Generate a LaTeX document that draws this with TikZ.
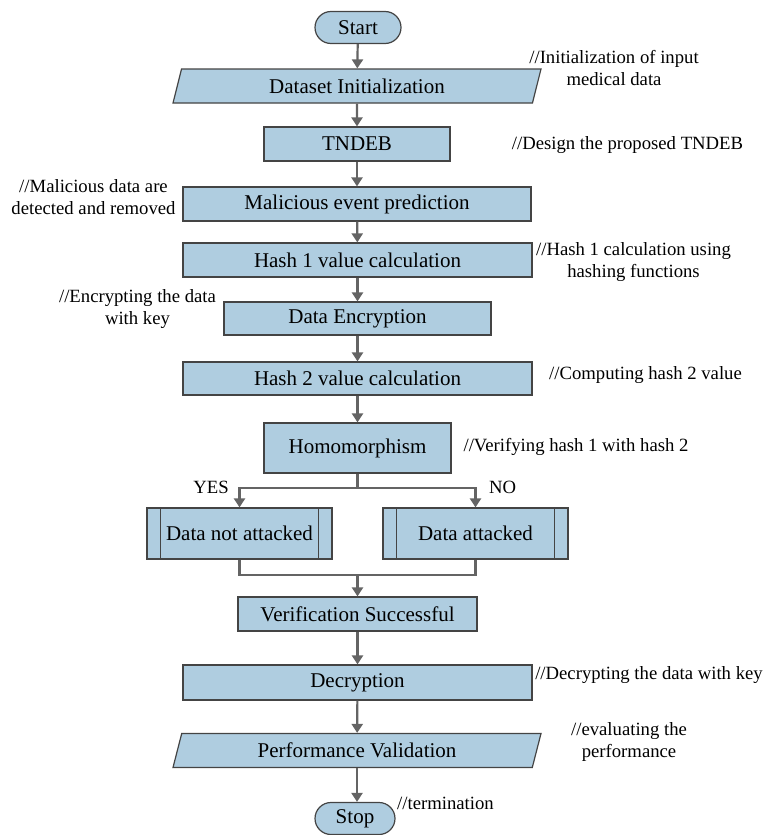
\documentclass[tikz,border=0pt]{standalone}
\usepackage{fontspec}
\setmainfont{Liberation Serif}
\usetikzlibrary{shapes.geometric,shapes.misc,arrows.meta}
\definecolor{boxblue}{RGB}{175,205,224}
\definecolor{edgegray}{RGB}{68,68,68}
\definecolor{arrowgray}{RGB}{100,100,100}
\begin{document}
\begin{tikzpicture}[x=1pt,y=-1pt,
  font=\fontsize{21}{24}\selectfont,
  proc/.style={draw=edgegray,line width=1.2pt,fill=boxblue,rectangle,inner sep=0pt},
  term/.style={proc,rounded rectangle,minimum width=86pt,minimum height=32pt},
  io/.style={proc,trapezium,trapezium left angle=60,trapezium right angle=120,
    trapezium stretches body,minimum width=368pt,minimum height=34pt},
  note/.style={align=center,inner sep=0pt,font=\fontsize{18.7}{21.5}\selectfont},
  flow/.style={draw=arrowgray,line width=2.2pt,-{Triangle[length=9pt,width=11pt]}}]
\useasboundingbox (0,0) rectangle (765,835);
\node[term] (1) at (358,27.5) {Start};
\node[io] (2) at (357,86) {Dataset Initialization};
\node[proc,minimum width=186pt,minimum height=34pt] (3) at (357,144) {TNDEB};
\node[proc,minimum width=348pt,minimum height=34pt] (4) at (357,204) {Malicious event prediction};
\node[proc,minimum width=349pt,minimum height=34pt] (5) at (357.5,260) {Hash 1 value calculation};
\node[proc,minimum width=267pt,minimum height=33pt] (6) at (357.5,318.5) {Data Encryption};
\node[proc,minimum width=349pt,minimum height=33pt] (7) at (357.5,378.5) {Hash 2 value calculation};
\node[proc,minimum width=187pt,minimum height=50pt] (8) at (357.5,448) {Homomorphism};
\node[proc,minimum width=185pt,minimum height=51pt] (9) at (239.5,533.5) {Data not attacked};
\node[proc,minimum width=185pt,minimum height=51pt] (10) at (475.5,533.5) {Data attacked};
\node[proc,minimum width=239pt,minimum height=34pt] (11) at (357.5,614) {Verification Successful};
\node[proc,minimum width=349pt,minimum height=35pt] (12) at (357.5,682.5) {Decryption};
\node[io] (13) at (357,750.5) {Performance Validation};
\node[term,minimum width=80pt] (14) at (355,818.5) {Stop};
% sub-process bars
\draw[edgegray,line width=1.2pt] ([xshift=14pt]9.north west) -- ([xshift=14pt]9.south west);
\draw[edgegray,line width=1.2pt] ([xshift=-14pt]9.north east) -- ([xshift=-14pt]9.south east);
\draw[edgegray,line width=1.2pt] ([xshift=14pt]10.north west) -- ([xshift=14pt]10.south west);
\draw[edgegray,line width=1.2pt] ([xshift=-14pt]10.north east) -- ([xshift=-14pt]10.south east);
% comments
\node[note] (c1) at (614,68) {//Initialization of input\\medical data};
\node[note] (c2) at (627.5,145) {//Design the proposed TNDEB};
\node[note] (c3) at (93.5,197) {//Malicious data are\\detected and removed};
\node[note] (c4) at (633.5,262) {//Hash 1 calculation using\\hashing functions};
\node[note] (c5) at (137.5,309) {//Encrypting the data\\with key};
\node[note] (c6) at (645.5,375) {//Computing hash 2 value};
\node[note] (c7) at (576,447) {//Verifying hash 1 with hash 2};
\node[note] (c8) at (649,675) {//Decrypting the data with key};
\node[note] (c9) at (629,742) {//evaluating the\\performance};
\node[note] (c10) at (445.5,803) {//termination};
\node[note,anchor=east] (y) at (229,487) {YES};
\node[note,anchor=west] (n) at (489,487) {NO};
% connectors
\coordinate (b) at (357.5,488);
\coordinate (m) at (357.5,575);
\path[flow] (1) -- (2);
\path[flow] (2) -- (3);
\path[flow] (3) -- (4);
\path[flow] (4) -- (5);
\path[flow] (5) -- (6);
\path[flow] (6) -- (7);
\path[flow] (7) -- (8);
\path[flow,-] (8) -- (b);
\path[flow] (b) -| (9.north);
\path[flow] (b) -| (10.north);
\path[flow,-] (9.south) |- (m) -| (10.south);
\path[flow] (m) -- (11);
\path[flow] (11) -- (12);
\path[flow] (12) -- (13);
\path[flow] (13.south) -- (13.south |- 14.north);
\end{tikzpicture}
\end{document}
